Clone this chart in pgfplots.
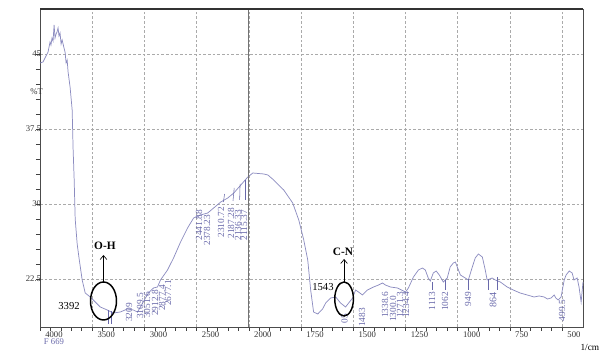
\documentclass[border=0pt]{standalone}
\usepackage{pgfplots}
\pgfplotsset{compat=1.18}
\usepackage{pgfplotstable}
\usepackage{fontspec}
\setmainfont{Liberation Serif}
\usetikzlibrary{arrows.meta}
\definecolor{spec}{RGB}{140,140,192}
\definecolor{lab}{RGB}{105,105,170}
\definecolor{gridc}{RGB}{170,170,170}

\pgfplotstableread{
nu T
4000 44.1
3971 44.2
3923 45.2
3904 46.2
3895 45.9
3885 46.6
3875 46.3
3865 47.9
3856 46.6
3846 47.0
3837 47.2
3827 47.6
3818 46.8
3808 47.1
3798 46.0
3788 46.4
3770 45.6
3760 45.2
3750 44.1
3740 44.4
3731 43.2
3712 41.7
3692 39.4
3683 35.5
3673 32.5
3663 28.5
3644 26.0
3625 24.5
3596 22.4
3567 21.1
3519 20.7
3471 20.2
3423 19.7
3356 19.4
3298 19.1
3231 19.2
3163 19.5
3106 19.4
3067 19.2
3038 19.7
2990 20.6
2962 21.1
2913 21.6
2875 21.7
2846 22.4
2779 23.4
2721 24.6
2654 26.2
2587 27.6
2529 28.6
2462 28.9
2394 29.1
2337 29.6
2269 30.2
2202 30.6
2144 31.1
2077 31.9
2010 32.7
1981 33.1
1928 33.0
1909 32.9
1881 32.4
1833 31.4
1790 30.1
1761 28.4
1737 26.4
1718 24.4
1704 21.4
1690 19.2
1670 19.0
1647 19.5
1632 20.1
1608 20.6
1584 20.7
1561 20.1
1537 19.7
1522 20.1
1503 20.6
1489 21.4
1475 21.2
1456 20.9
1432 21.4
1403 21.7
1379 21.9
1360 22.1
1346 21.9
1322 21.7
1288 21.6
1250 21.2
1236 21.6
1212 22.7
1188 23.4
1169 23.6
1155 23.4
1141 22.6
1131 22.3
1117 23.1
1103 23.3
1088 22.9
1069 22.2
1050 22.6
1036 23.7
1021 24.1
1011 24.2
1002 23.7
987 22.9
964 22.6
949 22.4
930 23.7
916 24.6
901 25.0
882 24.7
868 23.4
859 22.4
835 22.6
820 22.4
796 22.2
763 21.7
734 21.4
701 21.1
667 20.9
634 20.7
610 20.8
586 20.7
570 20.5
553 20.6
538 20.9
530 20.6
519 20.4
505 20.7
490 22.4
481 22.9
466 23.3
452 23.1
443 22.4
428 22.6
419 21.7
409 20.2
400 22.2
}\spectrum

\begin{document}
\begin{tikzpicture}
\path[use as bounding box] (0,0) rectangle (450pt,264pt);
\begin{axis}[
  at={(30pt,18.75pt)}, anchor=south west,
  width=407.25pt, height=238.5pt, scale only axis,
  xmin=-1000, xmax=1600, ymin=17.7, ymax=49.5,
  xtick={-1000,-750,-500,-250,0,250,500,750,1000,1250,1500},
  xticklabels={4000,3500,3000,2500,2000,1750,1500,1250,1000,750,500},
  minor x tick num=4,
  ytick={22.5,30,37.5,45},
  yticklabels={22.5,30,37.5,45},
  minor y tick num=4,
  tick pos=left,
  tick align=outside,
  major tick length=3pt, minor tick length=3pt,
  tick style={black!75, line width=0.5pt},
  xmajorgrids, ymajorgrids,
  grid style={gridc, dash pattern=on 2pt off 1.5pt, line width=0.5pt},
  axis line style={black!70, line width=0.7pt},
  clip=false,
  ticklabel style={font=\fontsize{6.5}{7}\selectfont, text=black!80},
  xticklabel style={anchor=west, inner sep=0.6pt, fill=white, xshift=3.2pt, yshift=-3pt},
  yticklabel style={anchor=east, inner sep=0pt, xshift=4pt},
]
\addplot[spec, line width=0.55pt, x filter/.expression={x>2000 ? (2000-x)/2 : 2000-x}] table[x=nu, y=T] {\spectrum};

% 2000 break line
\draw[black!55, line width=0.7pt] (axis cs:0,17.7) -- (axis cs:0,49.5);
\draw[black!80, line width=1.1pt] (axis cs:-1000,49.5) -- (axis cs:1600,49.5);

\tikzset{lbl/.style={rotate=90, anchor=east, inner sep=0pt, text=lab, font=\fontsize{7}{7}\selectfont}}
% peak labels above 2000
\node[lbl] at (axis cs:-238.7,29.4) {2441.88};
\node[lbl] at (axis cs:-200.4,28.9) {2378.23};
\node[lbl] at (axis cs:-133.3,29.7) {2310.72};
\node[lbl] at (axis cs:-85.4,29.6) {2187.28};
\node[lbl] at (axis cs:-51.9,29.4) {2136.33};
\node[lbl] at (axis cs:-23.2,29.4) {2115.37};
\draw[lab, line width=0.4pt] (axis cs:-122,30.2) -- (axis cs:-116,31.0);
\draw[lab, line width=0.4pt] (axis cs:-76,30.3) -- (axis cs:-70,31.6);
\draw[lab, line width=0.4pt] (axis cs:-44,30.4) -- (axis cs:-42,32.0);
\draw[lab, line width=0.4pt] (axis cs:-16,30.4) -- (axis cs:-16,32.4);
% near 3000
\node[lbl] at (axis cs:-573.9,20.1) {3209};
\node[lbl] at (axis cs:-521.2,21.1) {3109.5};
\node[lbl] at (axis cs:-487.7,21.2) {3051.6};
\node[lbl] at (axis cs:-449.4,21.4) {2912.8};
\node[lbl] at (axis cs:-415.8,21.9) {2877.4};
\node[lbl] at (axis cs:-387.1,22.4) {2677.1};
\draw[lab, line width=0.4pt] (axis cs:-675,18.0) -- (axis cs:-675,19.4);
\draw[lab, line width=0.4pt] (axis cs:-660,18.0) -- (axis cs:-660,19.3);
% below 2000
\node[lbl] at (axis cs:458,19.0) {05};
\node[lbl] at (axis cs:541.8,19.6) {1483};
\node[lbl] at (axis cs:651.9,21.2) {1338.6};
\node[lbl] at (axis cs:690.2,20.8) {1300.0};
\node[lbl] at (axis cs:723.7,21.2) {1271.3};
\node[lbl] at (axis cs:752.5,21.2) {1234.4};
\node[lbl] at (axis cs:877,21.2) {1113};
\node[lbl] at (axis cs:939.2,21.2) {1062};
\node[lbl] at (axis cs:1049.3,21.2) {949};
\node[lbl, font=\fontsize{7.5}{7.5}\selectfont] at (axis cs:1169,21.2) {864};
\node[lbl] at (axis cs:1499.4,20.4) {499.5};
\draw[lab, line width=0.4pt] (axis cs:877,22.2) -- (axis cs:877,21.4);
\draw[lab, line width=0.4pt] (axis cs:939.2,22.4) -- (axis cs:939.2,21.4);
\draw[lab, line width=0.4pt] (axis cs:1049.3,22.5) -- (axis cs:1049.3,21.4);
\draw[lab, line width=0.4pt] (axis cs:1145,22.5) -- (axis cs:1145,21.4);
\draw[lab, line width=0.4pt] (axis cs:1190,22.7) -- (axis cs:1190,21.4);

% O-H annotation
\draw[black, line width=1.1pt] (axis cs:-696,20.3) ellipse [x radius=9.75pt, y radius=14.25pt];
\draw[black, line width=0.5pt, -{Straight Barb[length=3pt,width=5pt]}] (axis cs:-696,22.2) -- (axis cs:-696,24.9);
\node[font=\bfseries\fontsize{8.5}{9}\selectfont] at (axis cs:-689,25.8) {O-H};
\node[font=\fontsize{8}{9}\selectfont] at (axis cs:-861,19.8) {3392};

% C-N annotation
\draw[black, line width=1.1pt] (axis cs:456,20.5) ellipse [x radius=7pt, y radius=12.75pt];
\draw[black, line width=0.5pt, -{Straight Barb[length=3pt,width=5pt]}] (axis cs:456,22.2) -- (axis cs:456,24.5);
\node[font=\bfseries\fontsize{8.5}{9}\selectfont] at (axis cs:451,25.2) {C-N};
\node[font=\fontsize{8}{9}\selectfont] at (axis cs:355,21.7) {1543};

% axis texts
\node[anchor=east, inner sep=0pt, font=\fontsize{6.5}{7}\selectfont, text=black!80] at (axis cs:-985,41.2) {\%T};
\node[font=\fontsize{6.5}{7}\selectfont, text=lab] at (axis cs:-933,16.2) {F 669};
\node[font=\fontsize{7}{7}\selectfont] at (axis cs:1633,15.7) {1/cm};
\end{axis}
\end{tikzpicture}
\end{document}
